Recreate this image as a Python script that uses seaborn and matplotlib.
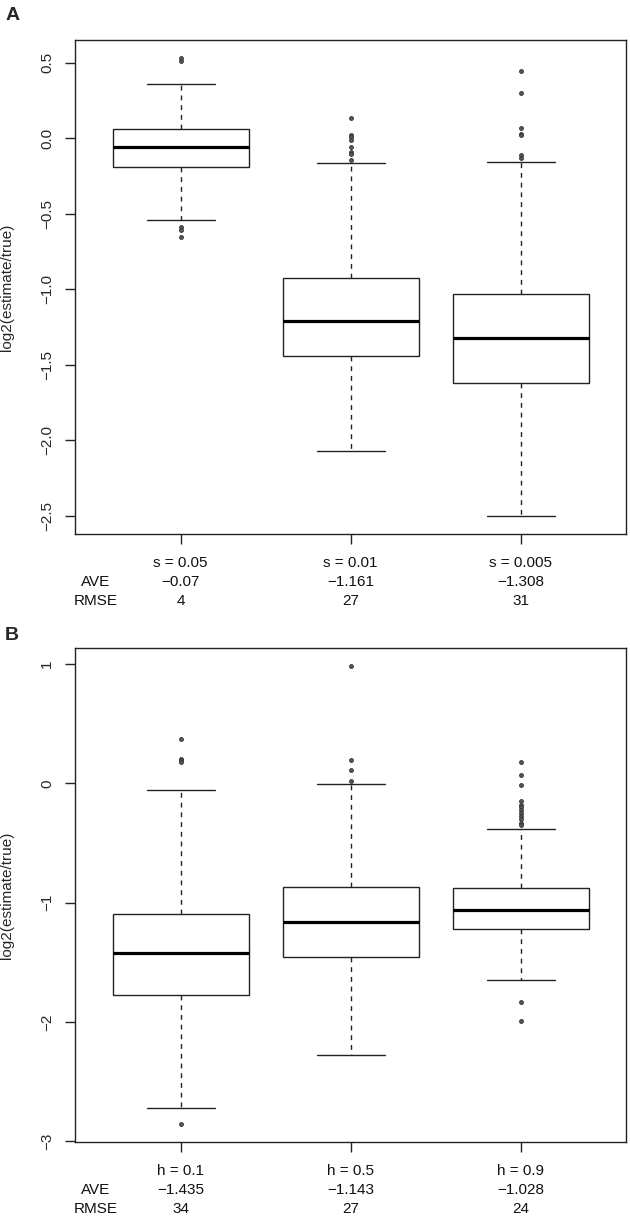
import matplotlib
matplotlib.use("Agg")
import matplotlib.pyplot as plt
import seaborn as sns
import numpy as np

# Panel A: threshold s
labels_a = ["s = 0.05", "s = 0.01", "s = 0.005"]
ave_a = ["\u22120.07", "\u22121.161", "\u22121.308"]
rmse_a = ["4", "27", "31"]
med_a = [-0.057, -1.207, -1.32]
q1_a = [-0.19, -1.442, -1.623]
q3_a = [0.06, -0.922, -1.03]
whislo_a = [-0.538, -2.068, -2.499]
whishi_a = [0.36, -0.163, -0.157]
fliers_a = [
    [0.53, 0.51, -0.587, -0.609, -0.654],
    [0.137, 0.02, 0.009, -0.009, -0.058, -0.09, -0.106, -0.141],
    [0.446, 0.303, 0.071, 0.031, 0.02, -0.113, -0.128],
]
yticks_a = [-2.5, -2.0, -1.5, -1.0, -0.5, 0.0, 0.5]

# Panel B: h
labels_b = ["h = 0.1", "h = 0.5", "h = 0.9"]
ave_b = ["\u22121.435", "\u22121.143", "\u22121.028"]
rmse_b = ["34", "27", "24"]
med_b = [-1.42, -1.158, -1.057]
q1_b = [-1.776, -1.451, -1.219]
q3_b = [-1.091, -0.867, -0.878]
whislo_b = [-2.72, -2.273, -1.644]
whishi_b = [-0.059, -0.008, -0.38]
fliers_b = [
    [0.375, 0.207, 0.195, 0.182, -2.852],
    [0.984, 0.196, 0.109, 0.022],
    [0.176, 0.07, -0.017, -0.145, -0.185, -0.2, -0.22, -0.25, -0.27,
     -0.30, -0.33, -0.35, -1.831, -1.991],
]
yticks_b = [-3, -2, -1, 0, 1]

sns.set_theme(style="ticks")
plt.rcParams['font.family'] = ['Liberation Sans', 'DejaVu Sans']

LINE = "#222222"


def draw_panel(ax, labels, ave, rmse, med, q1, q3, lo, hi, fliers, yticks):
    """R-style boxplot from summary stats."""
    stats = []
    for i in range(len(labels)):
        stats.append(dict(med=med[i], q1=q1[i], q3=q3[i], whislo=lo[i],
                          whishi=hi[i], fliers=np.array(fliers[i]), label=labels[i]))
    ax.bxp(stats, widths=0.8, capwidths=0.4, patch_artist=True,
           boxprops=dict(facecolor="white", edgecolor=LINE, linewidth=1.0),
           medianprops=dict(color="black", linewidth=2.3, solid_capstyle="butt"),
           whiskerprops=dict(color=LINE, linewidth=1.0, linestyle=(0, (3.5, 3.5))),
           capprops=dict(color=LINE, linewidth=1.0),
           flierprops=dict(marker="o", markersize=2.8, markerfacecolor="#555555",
                           markeredgecolor="#333333", markeredgewidth=0.6))

    # R default axis extension (4%)
    vals = lo + hi + [v for f in fliers for v in f]
    ymin, ymax = min(vals), max(vals)
    pad = (ymax - ymin) * 0.04
    ax.set_ylim(ymin - pad, ymax + pad)
    ax.set_xlim(0.5 - 0.12, 3.5 + 0.12)

    ax.set_yticks(yticks)
    ax.set_xticks([1, 2, 3])
    ax.set_xticklabels([])
    ax.tick_params(axis="both", length=7.2, width=1.0, color=LINE,
                   labelsize=11, pad=8)
    ax.tick_params(axis="y", labelrotation=90)
    for t in ax.get_yticklabels():
        t.set_va("center")
    for sp in ax.spines.values():
        sp.set_visible(True)
        sp.set_color(LINE)
        sp.set_linewidth(1.0)

    ax.set_ylabel("log2(estimate/true)", fontsize=11)
    ax.yaxis.set_label_coords(-0.111, 0.5)

    # rows under the axis: label / AVE / RMSE
    offs = [-20.9, -34.6, -48.2]
    for i in range(len(labels)):
        for row, txt in enumerate([labels[i], ave[i], rmse[i]]):
            ax.annotate(txt, xy=(i + 1, 0), xycoords=("data", "axes fraction"),
                        xytext=(0, offs[row]), textcoords="offset points",
                        ha="center", va="center", fontsize=11, color="#111111")
    for row, txt in [(1, "AVE"), (2, "RMSE")]:
        ax.annotate(txt, xy=(0.037, 0), xycoords="axes fraction",
                    xytext=(0, offs[row]), textcoords="offset points",
                    ha="center", va="center", fontsize=11, color="#111111")


fig = plt.figure(figsize=(6.3, 12.27), dpi=100)
ax_a = fig.add_axes([0.1195, 0.5648, 0.8742, 0.4026])
ax_b = fig.add_axes([0.1195, 0.0693, 0.8742, 0.4028])

draw_panel(ax_a, labels_a, ave_a, rmse_a, med_a, q1_a, q3_a,
           whislo_a, whishi_a, fliers_a, yticks_a)
draw_panel(ax_b, labels_b, ave_b, rmse_b, med_b, q1_b, q3_b,
           whislo_b, whishi_b, fliers_b, yticks_b)

fig.text(0.008, 1 - 15 / 1227, "A", fontsize=14, fontweight="bold", va="center")
fig.text(0.008, 1 - 635 / 1227, "B", fontsize=14, fontweight="bold", va="center")

fig.savefig("out.png", dpi=100)
